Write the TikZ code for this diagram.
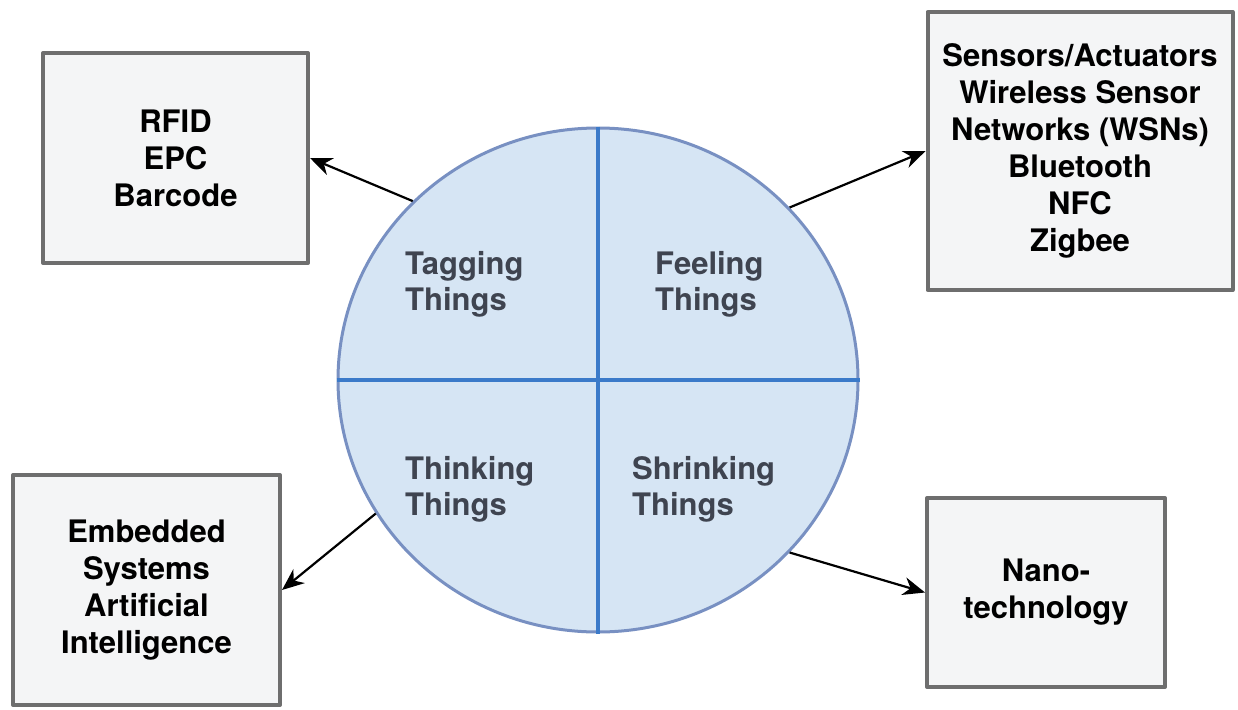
\documentclass[tikz,border=0pt]{standalone}
\usepackage{fontspec}
\setmainfont{TeX Gyre Heros}
\usetikzlibrary{arrows.meta,shapes.geometric}
\definecolor{boxfill}{HTML}{F4F5F6}
\definecolor{boxline}{HTML}{6E6E6E}
\definecolor{discfill}{HTML}{D6E5F4}
\definecolor{discline}{HTML}{7890C2}
\definecolor{crossline}{HTML}{3B7AC9}
\definecolor{labtext}{HTML}{3F4450}
\begin{document}
\begin{tikzpicture}[x=1pt, y=-1pt, line join=round,
	box/.style={draw=boxline, fill=boxfill, line width=4pt, align=center, text=black, font=\fontsize{31}{37}\selectfont\bfseries},
	quarter/.style={anchor=west, align=left, inner sep=0pt, text=labtext, font=\fontsize{31}{36}\selectfont\bfseries},
	link/.style={-{Stealth[length=22pt,width=18pt,inset=7pt]}, line width=2.2pt}]
	\useasboundingbox (0,0) rectangle (1238,709);
	\node[ellipse, draw=discline, fill=discfill, line width=3pt, minimum width=520, minimum height=504] (disc) at (598,380) {};
	\draw[crossline, line width=4pt] (disc.north) -- (disc.south) (disc.west) -- (disc.east);
	\node[quarter] (tagl) at (405,284) {Tagging\\Things};
	\node[quarter] (feell) at (655,284) {Feeling\\Things};
	\node[quarter] (thinkl) at (405,489) {Thinking\\Things};
	\node[quarter] (shrinkl) at (632,489) {Shrinking\\Things};
	\node[box, minimum width=265, minimum height=210] (tag) at (175.5,158) {RFID\\EPC\\Barcode};
	\node[box, minimum width=305, minimum height=278] (sens) at (1080,151) {Sensors/Actuators\\Wireless Sensor\\Networks (WSNs)\\Bluetooth\\NFC\\Zigbee};
	\node[box, minimum width=267, minimum height=230] (think) at (146.5,590) {Embedded\\Systems\\Artificial\\Intelligence};
	\node[box, minimum width=238, minimum height=189] (nano) at (1046,592.5) {Nano-\\technology};
	\draw[link] (disc.136) -- (tag.east);
	\draw[link] (disc.42) -- (sens.west);
	\draw[link] (disc.211) -- (think.east);
	\draw[link] (disc.318) -- (nano.west);
\end{tikzpicture}
\end{document}
